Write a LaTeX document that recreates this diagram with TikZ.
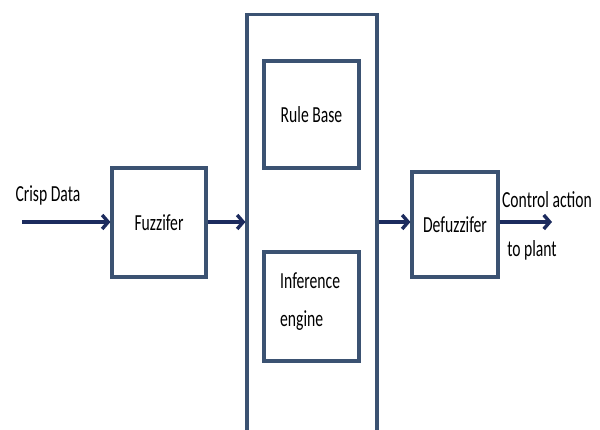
\documentclass[tikz,border=0pt]{standalone}
\usepackage{fontspec}
\setmainfont{Carlito}[FakeStretch=0.68]
\usepackage{xcolor}
\usepackage{tikz}
\usetikzlibrary{arrows.meta,positioning}
\definecolor{Slate}{HTML}{3B5272}
\definecolor{Navy}{HTML}{1C2B5E}

\begin{document}
\begin{tikzpicture}[x=1pt,y=1pt,
    font=\fontsize{23}{28}\selectfont,
    box/.style={draw=Slate,line width=3.2pt,fill=white,inner sep=0pt},
    flow/.style={->,draw=Navy,line width=3.4pt},
    >={Straight Barb[length=6pt,width=14pt]}]
  \clip (0,0) rectangle (600,430);
  \fill[white] (0,0) rectangle (600,430);
  % blocks
  \node[box,minimum width=130pt,minimum height=440pt,anchor=north] (rules) at (312,417) {};
  \node[box,minimum width=94pt,minimum height=109pt] (fuzz) at (159,207.5) {Fuzzifer};
  \node[box,minimum width=95pt,minimum height=107pt] (base) at (311.5,315.5) {Rule Base};
  \node[box,minimum width=95pt,minimum height=109pt] (infer) at (311.5,123.5) {};
  \node[align=left,inner sep=0pt,anchor=west] (inftxt) at (280,128) {Inference\\[10pt]engine};
  \node[box,minimum width=86pt,minimum height=105pt] (defuzz) at (455,205.5) {Defuzzifer};
  % labels
  \node (crisp) at (48,235) {Crisp Data};
  \node (ctrl) at (547,230) {Control action};
  \node (plant) at (532,180) {to plant};
  \coordinate (in) at (22,208);
  \coordinate (out) at (552,208);
  % arrows
  \draw[flow] (in) -- (in -| fuzz.west);
  \draw[flow] (fuzz.east |- in) -- (in -| rules.west);
  \draw[flow] (rules.east |- in) -- (in -| defuzz.west);
  \draw[flow] (defuzz.east |- out) -- (out);
\end{tikzpicture}
\end{document}
